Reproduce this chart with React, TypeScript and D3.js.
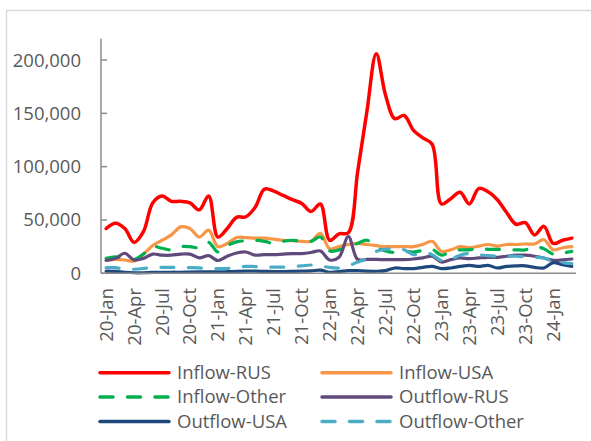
import * as d3 from "d3";

// monthly flows, Jan 2020 .. Mar 2024
const months = d3.timeMonth.range(new Date(2020, 0, 1), new Date(2024, 3, 1));
const tickLabels = [
  "20-Jan", "20-Apr", "20-Jul", "20-Oct", "21-Jan", "21-Apr", "21-Jul", "21-Oct", "22-Jan",
  "22-Apr", "22-Jul", "22-Oct", "23-Jan", "23-Apr", "23-Jul", "23-Oct", "24-Jan",
];
const yTicks = [0, 50000, 100000, 150000, 200000];

const inflowRus = [
  42000, 47000, 42000, 29000, 39000, 66000, 72500, 67500, 67500, 66000, 59500, 72500, 34000,
  42000, 52500, 53000, 62000, 79000, 77000, 73000, 69000, 65500, 58000, 65000, 31000, 37000,
  38000, 95000, 152000, 206000, 167000, 145000, 148000, 134000, 127000, 121000, 65000, 70000,
  76000, 65000, 79500, 76500, 69000, 57000, 46000, 47500, 36000, 44000, 28000, 31000, 33000,
];
const inflowUsa = [
  12500, 13000, 12500, 11500, 18000, 26000, 31000, 36000, 43500, 42000, 34000, 40500, 25000,
  28000, 33500, 33500, 33000, 33000, 32000, 31000, 30500, 30000, 30000, 37500, 23000, 25000,
  27000, 28000, 27000, 26000, 25000, 25000, 25000, 25000, 27000, 30000, 20600, 22000, 25000,
  24000, 25500, 27000, 25500, 27000, 27000, 27500, 27500, 31500, 22000, 24000, 25000,
];
const inflowOther = [
  14000, 15500, 13500, 13000, 18000, 25000, 23500, 22000, 25000, 25000, 24000, 29000, 20000,
  26000, 29500, 30500, 31000, 30000, 28000, 30000, 31000, 30000, 30000, 34000, 21000, 22000,
  25000, 28000, 31000, 24500, 21000, 19500, 20500, 20000, 21500, 22500, 17000, 20500, 22000,
  22000, 23700, 22500, 22500, 22000, 22000, 22000, 25000, 23000, 18000, 19000, 20500,
];
const outflowRus = [
  12000, 14000, 18800, 12500, 14000, 18000, 17000, 17000, 18000, 18000, 14500, 16500, 12000,
  16000, 19000, 20000, 17000, 17500, 17500, 18000, 18500, 18500, 19500, 21000, 12500, 15000,
  34500, 13000, 13000, 13000, 12800, 12800, 12800, 13400, 14400, 16000, 10600, 12800, 14400,
  13700, 14400, 15000, 15000, 16000, 17000, 17000, 16000, 14400, 12200, 12500, 13400,
];
const outflowUsa = [
  2000, 1800, 1000, 500, 500, 800, 800, 1000, 1000, 1200, 1300, 1400, 1300,
  1500, 1800, 2000, 2000, 1800, 1600, 1600, 1800, 2000, 2200, 3000, 1000, 1500,
  2500, 2500, 2000, 1900, 2500, 5000, 4400, 4400, 5600, 6500, 4400, 5000, 6500,
  7500, 6500, 7500, 5000, 6500, 7000, 7000, 5600, 5000, 10000, 8000, 6500,
];
const outflowOther = [
  5300, 5300, 3800, 3800, 4500, 5600, 5600, 5600, 5600, 5300, 5000, 4700, 4400,
  4500, 5500, 6500, 6300, 6000, 5800, 5800, 6300, 7000, 7800, 7000, 5500, 5000,
  7000, 10500, 14000, 20500, 22500, 23000, 22000, 17500, 19000, 17500, 12000, 13000, 17000,
  18500, 17500, 16500, 16000, 16000, 16000, 15500, 15000, 14400, 11000, 10000, 9000,
];

const series = [
  { name: "Inflow-RUS", values: inflowRus, color: "#ff0000", dash: false },
  { name: "Inflow-USA", values: inflowUsa, color: "#f79646", dash: false },
  { name: "Inflow-Other", values: inflowOther, color: "#00b050", dash: true },
  { name: "Outflow-RUS", values: outflowRus, color: "#604a7b", dash: false },
  { name: "Outflow-USA", values: outflowUsa, color: "#1f497d", dash: false },
  { name: "Outflow-Other", values: outflowOther, color: "#4bacc6", dash: true },
];

const W = 591;
const H = 441;
const FONT = "'Open Sans', sans-serif";
const TEXT = "#595959";
const AXIS = "#8c8c8c";
const DASH = "13,14.5";

export default function App() {
  const x = d3.scaleBand<number>().domain(months.map((_, i) => i)).range([101.5, 576.5]);
  const y = d3.scaleLinear().domain([0, 220000]).range([273.3, 38.7]);
  const cx = (i: number) => (x(i) ?? 0) + x.bandwidth() / 2;

  const line = d3
    .line<number>()
    .x((_, i) => cx(i))
    .y((d) => y(d))
    .curve(d3.curveCatmullRom.alpha(0.5));

  return (
    <svg width={W} height={H} style={{ position: "absolute", left: 0, top: 0 }} fontFamily={FONT}>
      <rect x={0} y={0} width={W} height={H} fill="#fff" />
      <rect x={6.5} y={10.5} width={620} height={500} fill="none" stroke="#d9d9d9" strokeWidth={1.5} />

      {/* y axis */}
      <line x1={101} x2={101} y1={y.range()[1]} y2={y(0)} stroke={AXIS} strokeWidth={1.5} />
      {yTicks.map((t) => (
        <g key={t}>
          <line x1={101} x2={107} y1={y(t)} y2={y(t)} stroke={AXIS} strokeWidth={1.5} />
          <text x={81} y={y(t)} dy="0.35em" textAnchor="end" fontSize={18.5} fill={TEXT}>
            {d3.format(",")(t)}
          </text>
        </g>
      ))}

      {/* series */}
      {series.map((s) => (
        <path
          key={s.name}
          d={line(s.values) ?? ""}
          fill="none"
          stroke={s.color}
          strokeWidth={s.name === "Inflow-RUS" ? 3.5 : 3.2}
          strokeDasharray={s.dash ? DASH : undefined}
          strokeLinecap="round"
          strokeLinejoin="round"
        />
      ))}

      {/* x axis */}
      <line x1={101} x2={576} y1={y(0)} y2={y(0)} stroke={AXIS} strokeWidth={1.5} />
      {tickLabels.map((lab, k) => {
        const px = cx(k * 3);
        return (
          <text
            key={lab}
            transform={`translate(${px},288) rotate(-90)`}
            dy="0.35em"
            textAnchor="end"
            fontSize={18.5}
            fill={TEXT}
          >
            {lab}
          </text>
        );
      })}

      {/* legend */}
      {series.map((s, i) => {
        const col = i % 2;
        const row = Math.floor(i / 2);
        const lx = col === 0 ? 100 : 322;
        const ly = [372.7, 397, 421.5][row];
        return (
          <g key={s.name}>
            <line
              x1={lx}
              x2={lx + 69}
              y1={ly}
              y2={ly}
              stroke={s.color}
              strokeWidth={3.5}
              strokeDasharray={s.dash ? DASH : undefined}
              strokeLinecap="round"
            />
            <text x={lx + 77} y={ly} dy="0.35em" fontSize={18.5} fill={TEXT}>
              {s.name}
            </text>
          </g>
        );
      })}
    </svg>
  );
}
